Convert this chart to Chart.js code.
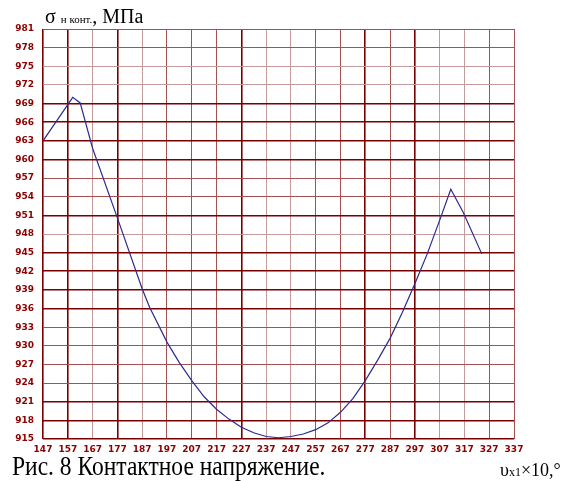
<!DOCTYPE html>
<html>
<head>
<meta charset="utf-8">
<script src="https://cdn.jsdelivr.net/npm/chart.js@4"></script>
<style>
  body { margin: 0; background: #fff; }
  #wrap { position: relative; width: 569px; height: 481px; }
  .t { position: absolute; font-family: "Liberation Serif", serif; color: #000; line-height: 1; white-space: nowrap; }
</style>
</head>
<body>
<div id="wrap">
  <canvas id="myChart" width="569" height="481"></canvas>
  <div class="t" style="left:45px; top:6px; font-size:20px;">σ <span style="font-size:11px">н конт.</span>, МПа</div>
  <div class="t" style="left:12px; top:452px; font-size:28px; transform-origin:0 0; transform:scaleX(0.84);">Рис. 8 Контактное напряжение.</div>
  <div class="t" style="left:500px; top:461px; font-size:18px;">υ<span style="font-size:12px">x1</span>×10,°</div>
</div>
<script>
// angle (x10, deg) and contact stress, MPa
var angleData = [147, 159, 162, 167, 177, 187, 190, 197, 202, 207, 212, 217, 222, 227, 232, 237, 242, 247, 252, 257, 262, 267, 272, 277, 282, 287, 292, 297, 302, 307, 311.5, 316.5, 324];
var stressData = [963.0, 970.0, 969.1, 961.8, 950.6, 939.2, 936.2, 930.6, 927.3, 924.4, 921.8, 919.8, 918.2, 916.9, 916.0, 915.4, 915.2, 915.4, 915.8, 916.5, 917.6, 919.3, 921.5, 924.4, 927.7, 931.2, 935.4, 940.0, 944.8, 950.2, 955.2, 951.5, 944.8];

var xTicks = [147, 157, 167, 177, 187, 197, 207, 217, 227, 237, 247, 257, 267, 277, 287, 297, 307, 317, 327, 337];
var yTicks = [915, 918, 921, 924, 927, 930, 933, 936, 939, 942, 945, 948, 951, 954, 957, 960, 963, 966, 969, 972, 975, 978, 981];

// which grid lines look heavier in the picture
var darkX = [147, 157, 177, 227, 277, 297];
var lightX = [167, 187, 237, 247, 307, 317];
var darkY = [915, 918, 921, 936, 939, 942, 945, 951, 960, 963, 966, 969];
var lightY = [948, 972, 975];

function gridColor(v, dark, light) {
  if (dark.indexOf(v) >= 0) return '#7a0000';
  if (light.indexOf(v) >= 0) return '#c49a9a';
  return '#a65050';
}

var points = angleData.map(function (a, i) { return { x: a, y: stressData[i] }; });

var ctx = document.getElementById('myChart').getContext('2d');
var myChart = new Chart(ctx, {
  type: 'line',
  data: {
    datasets: [{
      data: points,
      borderColor: '#2b2b90',
      borderWidth: 1.2,
      pointRadius: 0,
      tension: 0,
      fill: false
    }]
  },
  options: {
    responsive: false,
    animation: false,
    layout: { padding: { left: 0, top: 29, right: 55, bottom: 22 } },
    plugins: { legend: { display: false }, tooltip: { enabled: false } },
    scales: {
      x: {
        type: 'linear',
        min: 147,
        max: 337,
        afterBuildTicks: function (s) { s.ticks = xTicks.map(function (v) { return { value: v }; }); },
        afterFit: function (s) { s.height = 20; },
        border: { display: false },
        grid: {
          drawTicks: false,
          color: function (c) { return gridColor(c.tick.value, darkX, lightX); },
          lineWidth: function (c) { return darkX.indexOf(c.tick.value) >= 0 ? 1.6 : 1; }
        },
        ticks: {
          padding: 5,
          maxRotation: 0,
          autoSkip: false,
          color: '#8b0000',
          font: { family: 'DejaVu Sans', size: 9, weight: 'bold' }
        }
      },
      y: {
        min: 915,
        max: 981,
        afterBuildTicks: function (s) { s.ticks = yTicks.map(function (v) { return { value: v }; }); },
        afterFit: function (s) { s.width = 43; },
        border: { display: false },
        grid: {
          drawTicks: false,
          color: function (c) { return gridColor(c.tick.value, darkY, lightY); },
          lineWidth: function (c) { return darkY.indexOf(c.tick.value) >= 0 ? 1.6 : 1; }
        },
        ticks: {
          padding: 9,
          autoSkip: false,
          color: '#8b0000',
          font: { family: 'DejaVu Sans', size: 9, weight: 'bold' }
        }
      }
    }
  }
});
</script>
</body>
</html>
